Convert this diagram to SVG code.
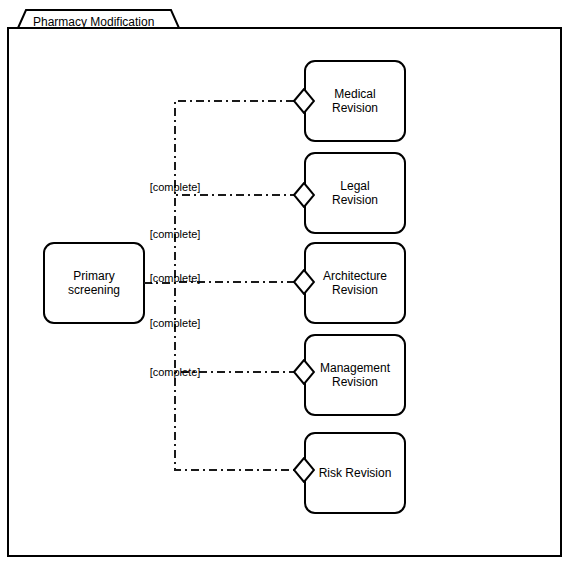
<svg xmlns="http://www.w3.org/2000/svg" width="568" height="564" viewBox="0 0 568 564">
<style>
text{font-family:"Liberation Sans",Arial,sans-serif;fill:#000}
.n{fill:#fff;stroke:#000;stroke-width:2}
.t{font-size:12px;text-anchor:middle}
.e{fill:none;stroke:#1a1a1a;stroke-width:2;stroke-dasharray:8 4 2 4}
.l{font-size:11px;text-anchor:middle}
</style>
<defs>
<marker id="dia" viewBox="0 0 22 26" markerWidth="22" markerHeight="26" refX="1" refY="13" orient="auto" markerUnits="userSpaceOnUse">
<polygon points="1,13 11,1 21,13 11,25" fill="#fff" stroke="#000" stroke-width="2"/>
</marker>
</defs>
<rect x="0" y="0" width="568" height="564" fill="#fff"/>
<g id="frame">
<polygon points="18,28 26,10 171,10 179,28" fill="#fff" stroke="#000" stroke-width="2"/>
<rect x="8" y="28" width="553" height="528" fill="#fff" stroke="#000" stroke-width="2"/>
<text x="33" y="26" style="font-size:12px">Pharmacy Modification</text>
</g>
<g id="primary"><rect class="n" x="44" y="243" width="100" height="80" rx="10"/><text class="t" x="94" y="280">Primary</text><text class="t" x="94" y="294">screening</text></g>
<g id="medical"><rect class="n" x="305" y="61" width="100" height="80" rx="10"/><text class="t" x="355" y="98">Medical</text><text class="t" x="355" y="112">Revision</text></g>
<g id="legal"><rect class="n" x="305" y="153" width="100" height="80" rx="10"/><text class="t" x="355" y="190">Legal</text><text class="t" x="355" y="204">Revision</text></g>
<g id="architecture"><rect class="n" x="305" y="243" width="100" height="80" rx="10"/><text class="t" x="355" y="280">Architecture</text><text class="t" x="355" y="294">Revision</text></g>
<g id="management"><rect class="n" x="305" y="335" width="100" height="80" rx="10"/><text class="t" x="355" y="372">Management</text><text class="t" x="355" y="386">Revision</text></g>
<g id="risk"><rect class="n" x="305" y="433" width="100" height="80" rx="10"/><text class="t" x="355" y="477">Risk Revision</text></g>
<g id="connectors">
<path class="e" d="M144,283 H175 V101 H294" marker-end="url(#dia)"/>
<path class="e" d="M144,283 H175 V195 H294" marker-end="url(#dia)"/>
<path class="e" d="M144,283 H175 V282 H294" marker-end="url(#dia)"/>
<path class="e" d="M144,283 H175 V372 H294" marker-end="url(#dia)"/>
<path class="e" d="M144,283 H175 V470 H294" marker-end="url(#dia)"/>
<text class="l" x="175" y="191">[complete]</text>
<text class="l" x="175" y="238">[complete]</text>
<text class="l" x="175" y="282">[complete]</text>
<text class="l" x="175" y="327">[complete]</text>
<text class="l" x="175" y="376">[complete]</text>
</g>
</svg>
